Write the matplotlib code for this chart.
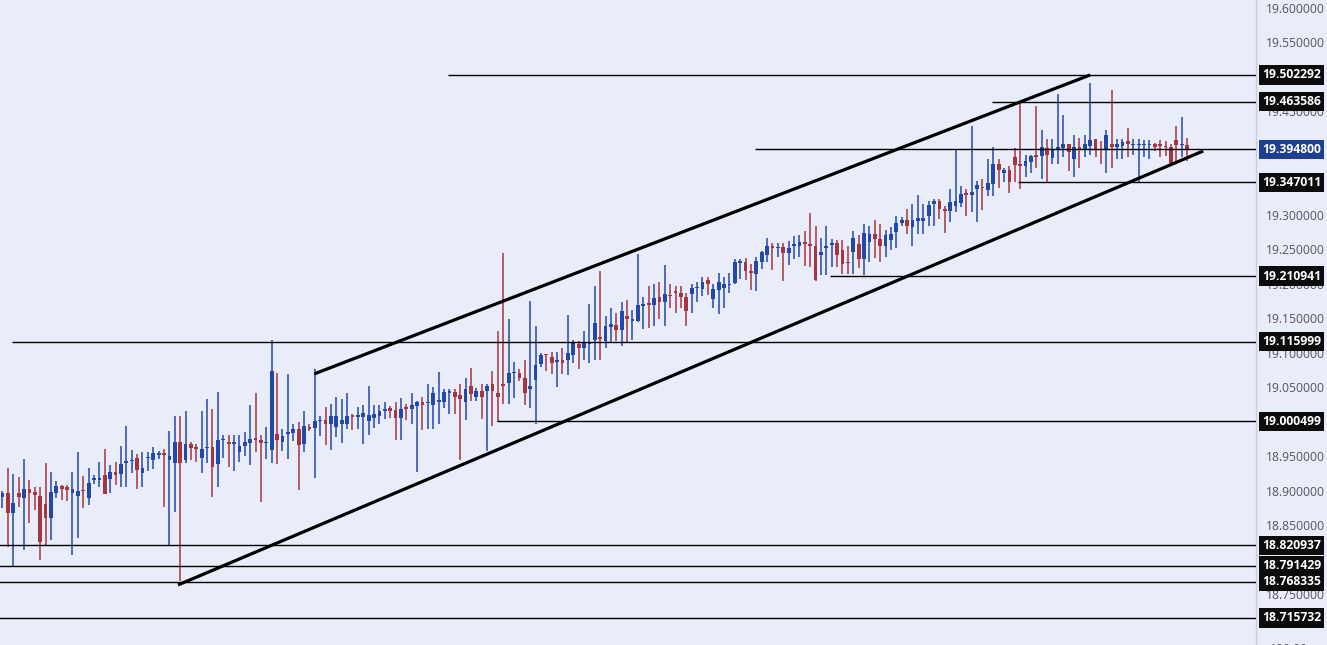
"""
USD/MXN style candlestick chart with ascending channel and labelled price levels.
"""
import matplotlib
matplotlib.use("Agg")
import matplotlib.pyplot as plt
import matplotlib.transforms as mtransforms
import numpy as np

# ---- candle data (oldest first) ----
OPEN = [
    18.891, 18.896, 18.868, 18.897, 18.889, 18.902, 18.898, 18.892, 18.881, 18.860,
    18.896, 18.907, 18.905, 18.896, 18.892, 18.900, 18.890, 18.916, 18.916, 18.923,
    18.917, 18.927, 18.924, 18.940, 18.943, 18.947, 18.926, 18.947, 18.945, 18.952,
    18.954, 18.945, 18.940, 18.970, 18.944, 18.968, 18.963, 18.948, 18.962, 18.963,
    18.939, 18.973, 18.970, 18.968, 18.956, 18.965, 18.969, 18.976, 18.974, 18.969,
    18.959, 18.982, 18.970, 18.982, 18.983, 18.990, 18.967, 18.993, 18.991, 19.001,
    19.002, 18.997, 18.993, 18.997, 18.997, 19.009, 19.007, 19.007, 19.001, 19.006,
    19.008, 19.016, 19.020, 19.017, 19.005, 19.022, 19.019, 19.023, 19.028, 19.027,
    19.024, 19.028, 19.029, 19.042, 19.043, 19.038, 19.028, 19.052, 19.036, 19.045,
    19.045, 19.054, 19.041, 19.055, 19.056, 19.070, 19.071, 19.064, 19.048, 19.061,
    19.083, 19.097, 19.094, 19.086, 19.090, 19.089, 19.097, 19.113, 19.107, 19.113,
    19.119, 19.123, 19.117, 19.137, 19.140, 19.133, 19.153, 19.146, 19.146, 19.168,
    19.172, 19.169, 19.180, 19.173, 19.183, 19.189, 19.186, 19.180, 19.185, 19.193,
    19.192, 19.205, 19.178, 19.191, 19.193, 19.198, 19.201, 19.230, 19.232, 19.219,
    19.214, 19.232, 19.242, 19.254, 19.252, 19.253, 19.245, 19.255, 19.255, 19.261,
    19.257, 19.255, 19.241, 19.251, 19.256, 19.259, 19.249, 19.232, 19.246, 19.258,
    19.235, 19.260, 19.272, 19.264, 19.255, 19.263, 19.275, 19.288, 19.292, 19.282,
    19.291, 19.291, 19.298, 19.316, 19.319, 19.308, 19.305, 19.313, 19.317, 19.331,
    19.329, 19.337, 19.340, 19.336, 19.344, 19.374, 19.361, 19.364, 19.384, 19.372,
    19.370, 19.376, 19.385, 19.385, 19.397, 19.382, 19.394, 19.396, 19.402, 19.381,
    19.398, 19.395, 19.400, 19.409, 19.395, 19.394, 19.402, 19.398, 19.400, 19.407,
    19.401, 19.401, 19.401, 19.401, 19.402, 19.402, 19.400, 19.398, 19.408, 19.401,
    19.401,
]
HIGH = [
    18.900, 18.933, 18.924, 18.920, 18.946, 18.915, 18.905, 18.905, 18.940, 18.927,
    18.914, 18.909, 18.909, 18.927, 18.956, 18.921, 18.933, 18.923, 18.941, 18.960,
    18.937, 18.942, 18.965, 18.994, 18.959, 18.953, 18.956, 18.956, 18.963, 18.957,
    18.960, 18.986, 19.008, 19.008, 19.016, 18.971, 18.968, 19.016, 19.033, 19.019,
    19.043, 18.981, 18.981, 18.981, 18.981, 18.985, 19.024, 19.041, 18.980, 18.992,
    19.119, 19.071, 18.989, 19.069, 18.997, 19.000, 19.015, 18.996, 19.076, 19.008,
    19.022, 19.026, 19.036, 19.033, 19.042, 19.011, 19.022, 19.024, 19.052, 19.024,
    19.024, 19.028, 19.023, 19.028, 19.035, 19.025, 19.041, 19.030, 19.036, 19.055,
    19.050, 19.072, 19.047, 19.047, 19.047, 19.055, 19.063, 19.078, 19.049, 19.054,
    19.054, 19.073, 19.131, 19.244, 19.149, 19.086, 19.076, 19.089, 19.175, 19.138,
    19.100, 19.098, 19.101, 19.101, 19.107, 19.154, 19.119, 19.117, 19.131, 19.170,
    19.196, 19.218, 19.153, 19.164, 19.157, 19.174, 19.176, 19.162, 19.243, 19.181,
    19.196, 19.199, 19.202, 19.227, 19.200, 19.197, 19.197, 19.187, 19.200, 19.203,
    19.209, 19.209, 19.200, 19.216, 19.210, 19.216, 19.235, 19.235, 19.237, 19.229,
    19.238, 19.248, 19.266, 19.259, 19.259, 19.259, 19.262, 19.269, 19.270, 19.276,
    19.303, 19.283, 19.266, 19.283, 19.265, 19.263, 19.263, 19.255, 19.276, 19.270,
    19.287, 19.284, 19.292, 19.287, 19.277, 19.282, 19.298, 19.297, 19.308, 19.315,
    19.328, 19.315, 19.320, 19.323, 19.322, 19.313, 19.337, 19.395, 19.341, 19.337,
    19.428, 19.349, 19.351, 19.380, 19.398, 19.380, 19.368, 19.371, 19.396, 19.464,
    19.387, 19.387, 19.457, 19.423, 19.409, 19.410, 19.474, 19.444, 19.403, 19.415,
    19.411, 19.415, 19.491, 19.410, 19.407, 19.423, 19.480, 19.409, 19.409, 19.426,
    19.409, 19.409, 19.408, 19.408, 19.404, 19.408, 19.407, 19.402, 19.429, 19.442,
    19.411,
]
LOW = [
    18.875, 18.818, 18.789, 18.877, 18.814, 18.853, 18.872, 18.800, 18.821, 18.829,
    18.890, 18.886, 18.885, 18.807, 18.831, 18.875, 18.880, 18.910, 18.905, 18.895,
    18.896, 18.908, 18.906, 18.906, 18.926, 18.902, 18.905, 18.928, 18.932, 18.946,
    18.877, 18.820, 18.869, 18.769, 18.940, 18.944, 18.941, 18.925, 18.940, 18.891,
    18.906, 18.947, 18.934, 18.929, 18.941, 18.950, 18.937, 18.956, 18.884, 18.946,
    18.940, 18.939, 18.958, 18.946, 18.972, 18.901, 18.956, 18.987, 18.919, 18.979,
    18.966, 18.959, 18.978, 18.969, 18.989, 18.988, 18.989, 18.968, 18.981, 18.991,
    18.996, 19.004, 19.005, 18.973, 18.973, 19.003, 18.996, 18.927, 18.988, 18.989,
    18.989, 18.996, 19.020, 19.011, 19.011, 18.945, 19.002, 19.030, 19.030, 19.004,
    18.957, 18.994, 19.000, 19.025, 19.025, 19.034, 19.059, 19.024, 19.020, 18.996,
    19.079, 19.073, 19.069, 19.050, 19.069, 19.067, 19.085, 19.077, 19.090, 19.085,
    19.090, 19.090, 19.107, 19.114, 19.117, 19.110, 19.114, 19.118, 19.145, 19.135,
    19.136, 19.138, 19.149, 19.138, 19.164, 19.157, 19.164, 19.138, 19.158, 19.174,
    19.182, 19.183, 19.164, 19.156, 19.164, 19.187, 19.199, 19.207, 19.205, 19.191,
    19.190, 19.221, 19.232, 19.220, 19.239, 19.204, 19.227, 19.236, 19.239, 19.226,
    19.224, 19.204, 19.213, 19.213, 19.224, 19.224, 19.214, 19.214, 19.214, 19.223,
    19.212, 19.232, 19.237, 19.231, 19.239, 19.249, 19.251, 19.283, 19.272, 19.255,
    19.272, 19.272, 19.283, 19.283, 19.294, 19.274, 19.290, 19.304, 19.311, 19.298,
    19.304, 19.290, 19.307, 19.327, 19.327, 19.338, 19.347, 19.331, 19.347, 19.337,
    19.355, 19.360, 19.367, 19.351, 19.347, 19.374, 19.374, 19.384, 19.363, 19.354,
    19.368, 19.383, 19.386, 19.384, 19.374, 19.361, 19.367, 19.380, 19.380, 19.383,
    19.387, 19.347, 19.383, 19.380, 19.392, 19.384, 19.385, 19.373, 19.375, 19.383,
    19.378,
]
CLOSE = [
    18.896, 18.868, 18.882, 18.891, 18.902, 18.896, 18.894, 18.826, 18.860, 18.898,
    18.907, 18.903, 18.901, 18.902, 18.900, 18.899, 18.911, 18.919, 18.919, 18.895,
    18.927, 18.923, 18.939, 18.943, 18.945, 18.930, 18.933, 18.949, 18.954, 18.955,
    18.952, 18.951, 18.970, 18.940, 18.967, 18.962, 18.961, 18.960, 18.964, 18.935,
    18.973, 18.974, 18.967, 18.970, 18.965, 18.970, 18.975, 18.973, 18.969, 18.970,
    19.073, 18.974, 18.979, 18.985, 18.990, 18.966, 18.994, 18.989, 19.001, 19.002,
    18.996, 19.008, 19.008, 19.003, 19.008, 19.007, 19.009, 19.013, 19.010, 19.011,
    19.016, 19.018, 19.016, 19.006, 19.019, 19.019, 19.024, 19.028, 19.024, 19.028,
    19.042, 19.031, 19.043, 19.044, 19.036, 19.033, 19.048, 19.040, 19.044, 19.036,
    19.052, 19.045, 19.036, 19.051, 19.071, 19.071, 19.064, 19.041, 19.052, 19.082,
    19.097, 19.096, 19.085, 19.090, 19.085, 19.100, 19.115, 19.107, 19.114, 19.116,
    19.143, 19.120, 19.138, 19.141, 19.133, 19.160, 19.149, 19.149, 19.169, 19.170,
    19.169, 19.179, 19.173, 19.185, 19.182, 19.186, 19.180, 19.160, 19.194, 19.194,
    19.203, 19.199, 19.192, 19.203, 19.200, 19.200, 19.231, 19.233, 19.218, 19.216,
    19.233, 19.246, 19.255, 19.252, 19.253, 19.245, 19.252, 19.256, 19.261, 19.257,
    19.255, 19.205, 19.246, 19.255, 19.259, 19.241, 19.229, 19.230, 19.266, 19.236,
    19.273, 19.272, 19.264, 19.255, 19.270, 19.272, 19.288, 19.292, 19.284, 19.292,
    19.295, 19.295, 19.314, 19.319, 19.308, 19.305, 19.318, 19.319, 19.330, 19.329,
    19.333, 19.343, 19.338, 19.346, 19.374, 19.364, 19.365, 19.347, 19.372, 19.371,
    19.378, 19.385, 19.384, 19.398, 19.387, 19.393, 19.398, 19.403, 19.390, 19.398,
    19.394, 19.402, 19.408, 19.395, 19.394, 19.415, 19.398, 19.402, 19.405, 19.402,
    19.402, 19.402, 19.402, 19.402, 19.398, 19.400, 19.398, 19.375, 19.401, 19.403,
    19.3948,
]

# horizontal levels: price, candle index where the line starts, box colour
LEVEL_PRICES = [19.502292, 19.463586, 19.394800, 19.347011, 19.210941,
                19.115999, 19.000499, 18.820937, 18.791429, 18.768335, 18.715732]
LEVEL_START = [82.7, 183.8, 139.8, 188.6, 153.7, 1.8, 91.8, -1, -1, -1, -1]
LEVEL_BOX = ["#0c0c0c", "#0c0c0c", "#1c3f94", "#0c0c0c", "#0c0c0c",
             "#0c0c0c", "#0c0c0c", "#0c0c0c", "#0c0c0c", "#0c0c0c", "#0c0c0c"]

# channel trend lines: (start index, start price, end index, end price)
CHANNEL_UPPER = (57.9, 19.0692, 202.0, 19.5023)
CHANNEL_LOWER = (32.6, 18.7635, 223.0, 19.3922)

PRICE_TICKS = np.round(np.arange(18.75, 19.60001, 0.05), 2)

BG = "#e9edf9"
UP_COLOR = "#2348ab"
DOWN_COLOR = "#a5353f"
SCALE_FONT = "Open Sans"

fig = plt.figure(figsize=(13.27, 6.45), dpi=100, facecolor=BG)
ax = fig.add_axes([0, 0, 1256 / 1327, 1])
ax.set_facecolor(BG)

opens = np.array(OPEN)
closes = np.array(CLOSE)
highs = np.array(HIGH)
lows = np.array(LOW)
idx = np.arange(len(opens))
up = closes >= opens
colors = np.where(up, UP_COLOR, DOWN_COLOR)

ax.vlines(idx, lows, highs, colors=colors, linewidth=1.1, zorder=2)
body_low = np.minimum(opens, closes)
body_h = np.maximum(np.abs(closes - opens), 0.0017)
ax.bar(idx, body_h, bottom=body_low, width=0.7, color=colors, linewidth=0, zorder=3)

x_right = 232.8
ax.set_xlim(-0.46, x_right)
ax.set_ylim(18.6765, 19.6109)

for price, start in zip(LEVEL_PRICES, LEVEL_START):
    ax.hlines(price, start, x_right, colors="black", linewidth=1.0, zorder=4)

for x0, p0, x1, p1 in (CHANNEL_UPPER, CHANNEL_LOWER):
    ax.plot([x0, x1], [p0, p1], color="black", linewidth=2.3,
            solid_capstyle="butt", zorder=5)

# right-hand price scale
ax.yaxis.tick_right()
ax.set_yticks(PRICE_TICKS)
ax.set_yticklabels([f"{t:.6f}" for t in PRICE_TICKS])
ax.tick_params(axis="y", length=0, pad=7, labelsize=8.7, labelcolor="#50555f")
for lbl in ax.get_yticklabels():
    lbl.set_fontfamily(SCALE_FONT)
ax.set_xticks([])
for side in ("top", "left", "bottom"):
    ax.spines[side].set_visible(False)
ax.spines["right"].set_color("#c9ccd6")
ax.spines["right"].set_linewidth(1.0)

trans = mtransforms.blended_transform_factory(ax.transAxes, ax.transData)
for price, box in zip(LEVEL_PRICES, LEVEL_BOX):
    ax.annotate(f"{price:.6f}", xy=(1.0, price), xycoords=trans,
                xytext=(4.2, 0), textcoords="offset points",
                ha="left", va="center", fontsize=8.7, fontweight="bold",
                fontfamily=SCALE_FONT, color="white", zorder=10,
                annotation_clip=False,
                bbox=dict(boxstyle="square,pad=0.26", fc=box, ec="none"))

# partly hidden label of the pane below
ax.annotate("100.00", xy=(1.0, 18.6765), xycoords=trans,
            xytext=(10, -3), textcoords="offset points", ha="left", va="center",
            fontsize=8.7, fontfamily=SCALE_FONT, color="#50555f",
            annotation_clip=False)

fig.savefig("out.png", dpi=100, facecolor=BG)
